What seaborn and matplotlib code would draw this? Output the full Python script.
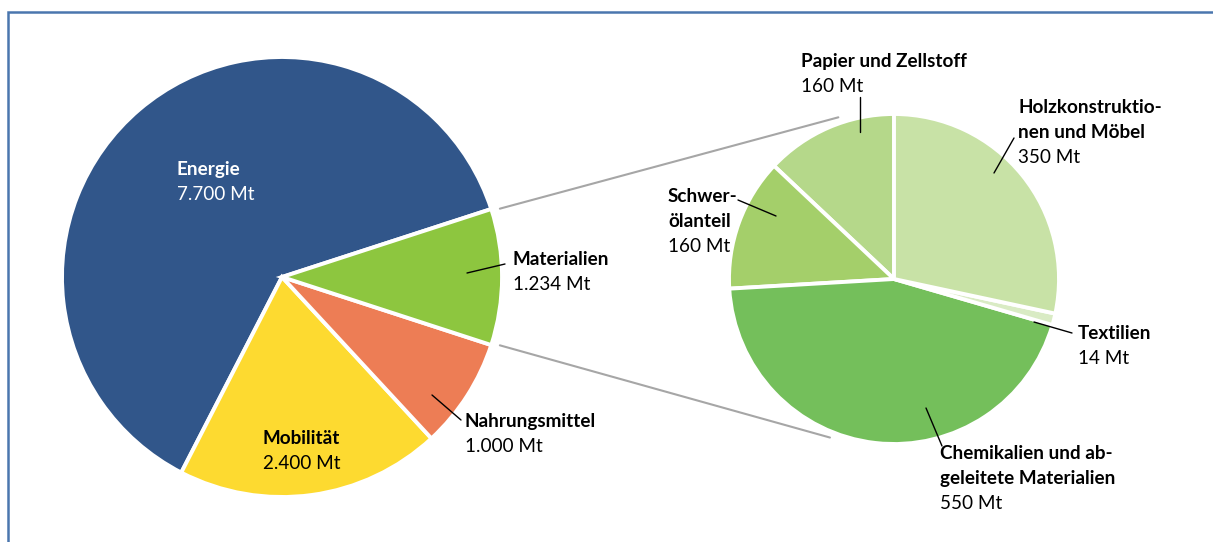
import numpy as np
import matplotlib
matplotlib.use("Agg")
import matplotlib.pyplot as plt
import seaborn as sns
from matplotlib.patches import Rectangle

# ---- data ----
main_labels = ["Energie", "Mobilität", "Nahrungsmittel", "Materialien"]
main_values = [7700, 2400, 1000, 1234]
main_texts = ["7.700 Mt", "2.400 Mt", "1.000 Mt", "1.234 Mt"]

sub_labels = ["Papier und Zellstoff", "Schwer-\nölanteil", "Chemikalien und ab-\ngeleitete Materialien",
              "Textilien", "Holzkonstruktio-\nnen und Möbel"]
sub_values = [160, 160, 550, 14, 350]
sub_texts = ["160 Mt", "160 Mt", "550 Mt", "14 Mt", "350 Mt"]

main_colors = ["#31568A", "#FDDA30", "#ED7D55", "#8DC63F"]
sub_colors = ["#B5D88A", "#A4CF6A", "#74BF5B", "#D9EBC4", "#C8E2A6"]

sns.set_theme(style="white")
plt.rcParams["font.family"] = ["Lato", "DejaVu Sans"]

W, H = 1213, 542
fig = plt.figure(figsize=(W / 100, H / 100), dpi=100)
ax = fig.add_axes([0, 0, 1, 1])

def P(x, y):
    return (x, H - y)

# left pie
c1 = np.array(P(282, 277))
r1 = 220
ex1 = [0, 0, 0, 0.035]
ax.pie(main_values, colors=main_colors, startangle=18, counterclock=True,
       center=tuple(c1), radius=r1, explode=ex1,
       wedgeprops=dict(edgecolor="white", linewidth=2.8))

# right pie
c2 = np.array(P(894, 279))
r2 = 165
ex2 = [0, 0, 0.02, 0, 0]
ax.pie(sub_values, colors=sub_colors, startangle=90, counterclock=True,
       center=tuple(c2), radius=r2, explode=ex2,
       wedgeprops=dict(edgecolor="white", linewidth=2.8))

ax.set_xlim(0, W)
ax.set_ylim(0, H)
ax.set_aspect("equal")
ax.axis("off")

# frame
ax.add_patch(Rectangle((8, -20), W + 50, (H - 12) + 20, fill=False,
                       edgecolor="#4A76AE", linewidth=1.8, zorder=0, clip_on=False))

# connector lines
tot = sum(main_values)
half = 360 * main_values[3] / tot / 2
off = np.array([ex1[3] * r1, 0])
for sgn, ang2 in [(1, 109), (-1, 248)]:
    a = np.deg2rad(sgn * half)
    p0 = c1 + off + (r1 + 1) * np.array([np.cos(a), np.sin(a)])
    b = np.deg2rad(ang2)
    p1 = c2 + (r2 + 6) * np.array([np.cos(b), np.sin(b)])
    ax.plot([p0[0], p1[0]], [p0[1], p1[1]], color="#A6A6A6", lw=1.5, zorder=0.5)

FS = 13.6
LS = 25

def label(x, y, name, val, color="black"):
    lines = name.split("\n")
    for i, ln in enumerate(lines):
        ax.text(*P(x, y + 7 + i * LS), ln, fontsize=FS, fontweight="bold", color=color,
                ha="left", va="baseline")
    ax.text(*P(x, y + 7 + len(lines) * LS), val, fontsize=FS, color=color,
            ha="left", va="baseline")

def leader(x0, y0, x1, y1):
    ax.plot([P(x0, y0)[0], P(x1, y1)[0]], [P(x0, y0)[1], P(x1, y1)[1]],
            color="black", lw=1.0, zorder=5)

label(177, 168, main_labels[0], main_texts[0], color="white")
label(263, 437, main_labels[1], main_texts[1])
label(465, 420, main_labels[2], main_texts[2])
leader(432, 395, 461, 420)
label(513, 258, main_labels[3], main_texts[3])
leader(467, 273, 505, 264)

label(801, 60, sub_labels[0], sub_texts[0])
leader(860, 97, 860, 132)
label(668, 195, sub_labels[1], sub_texts[1])
leader(738, 200, 776, 216)
label(940, 452, sub_labels[2], sub_texts[2])
leader(926, 408, 942, 446)
label(1078, 332, sub_labels[3], sub_texts[3])
leader(1034, 322, 1072, 333)
label(1018, 106, sub_labels[4], sub_texts[4])
leader(1014, 138, 994, 173)

fig.savefig("out.png", dpi=100, facecolor="white")
